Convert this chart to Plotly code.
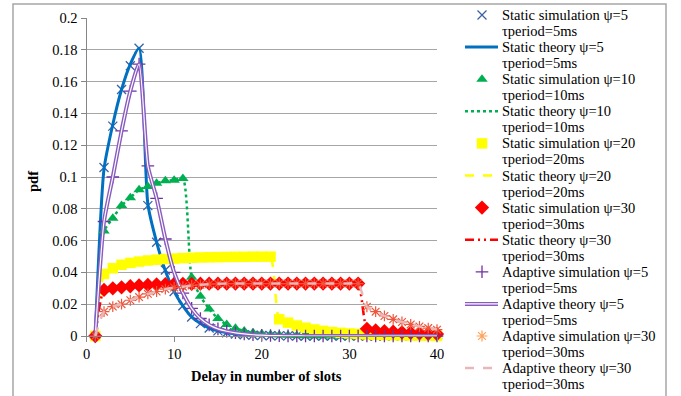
import plotly.graph_objects as go

# ---------------- data ----------------
slots = list(range(1, 41))

static_sim_5 = [0, 0.106, 0.132, 0.155, 0.170, 0.181, 0.082, 0.059, 0.0415, 0.028,
                0.019, 0.012, 0.0078, 0.005, 0.0032, 0.002, 0.0013, 0.0008, 0.0005, 0.0003,
                0.0002, 0.0001, 0.0001, 0, 0, 0, 0, 0, 0, 0,
                0, 0, 0, 0, 0, 0, 0, 0, 0, 0]
static_theory_5 = [0, 0.105, 0.133, 0.155, 0.171, 0.181, 0.083, 0.059, 0.041, 0.028,
                   0.019, 0.012, 0.0078, 0.005, 0.0032, 0.002, 0.0013, 0.0008, 0.0005, 0.0003,
                   0.0002, 0.0001, 0.0001, 0, 0, 0, 0, 0, 0, 0,
                   0, 0, 0, 0, 0, 0, 0, 0, 0, 0]
static_sim_10 = [0, 0.066, 0.074, 0.082, 0.087, 0.092, 0.094, 0.096, 0.0977, 0.098,
                 0.099, 0.037, 0.025, 0.017, 0.011, 0.0072, 0.0048, 0.0032, 0.0021, 0.0014,
                 0.0009, 0.0006, 0.0004, 0.0003, 0.0002, 0.0001, 0.0001, 0, 0, 0,
                 0, 0, 0, 0, 0, 0, 0, 0, 0, 0]
static_theory_10 = [0, 0.066, 0.074, 0.082, 0.087, 0.092, 0.094, 0.096, 0.0977, 0.098,
                    0.099, 0.037, 0.025, 0.017, 0.011, 0.0072, 0.0048, 0.0032, 0.0021, 0.0014,
                    0.0009, 0.0006, 0.0004, 0.0003, 0.0002, 0.0001, 0.0001, 0, 0, 0,
                    0, 0, 0, 0, 0, 0, 0, 0, 0, 0]
static_sim_20 = [0, 0.039, 0.0426, 0.0448, 0.046, 0.0468, 0.0475, 0.048, 0.0484, 0.0487,
                 0.049, 0.0492, 0.0494, 0.0495, 0.0496, 0.0497, 0.0498, 0.0498, 0.0499, 0.0499,
                 0.0499, 0.0105, 0.0084, 0.0066, 0.0052, 0.0041, 0.0032, 0.0025, 0.002, 0.0016,
                 0.0013, 0.001, 0.0008, 0.0006, 0.0005, 0.0004, 0.0003, 0.0002, 0.0002, 0.0001]
static_theory_20 = [0, 0.039, 0.0426, 0.0448, 0.046, 0.0468, 0.0475, 0.048, 0.0484, 0.0487,
                    0.049, 0.0492, 0.0494, 0.0495, 0.0496, 0.0497, 0.0498, 0.0498, 0.0499, 0.0499,
                    0.0499, 0.0105, 0.0084, 0.0066, 0.0052, 0.0041, 0.0032, 0.0025, 0.002, 0.0016,
                    0.0013, 0.001, 0.0008, 0.0006, 0.0005, 0.0004, 0.0003, 0.0002, 0.0002, 0.0001]
static_sim_30 = [0, 0.029, 0.030, 0.0306, 0.0313, 0.0318, 0.0321, 0.0324, 0.0326, 0.0327,
                 0.0328, 0.0328, 0.0329, 0.0329, 0.0329, 0.033, 0.033, 0.033, 0.033, 0.033,
                 0.033, 0.033, 0.033, 0.033, 0.033, 0.033, 0.033, 0.033, 0.033, 0.033,
                 0.033, 0.0045, 0.0035, 0.003, 0.0027, 0.0023, 0.002, 0.0017, 0.0014, 0.0012]
static_theory_30 = [0, 0.029, 0.030, 0.0306, 0.0313, 0.0318, 0.0321, 0.0324, 0.0326, 0.0327,
                    0.0328, 0.0328, 0.0329, 0.0329, 0.0329, 0.033, 0.033, 0.033, 0.033, 0.033,
                    0.033, 0.033, 0.033, 0.033, 0.033, 0.033, 0.033, 0.033, 0.033, 0.033,
                    0.033, 0.0045, 0.0035, 0.003, 0.0027, 0.0023, 0.002, 0.0017, 0.0014, 0.0012]
adaptive_sim_5 = [0, 0.072, 0.100, 0.129, 0.154, 0.171, 0.107, 0.0866, 0.061, 0.040,
                  0.027, 0.0174, 0.011, 0.007, 0.0045, 0.003, 0.002, 0.0013, 0.0008, 0.0005,
                  0.0003, 0.0002, 0.0001, 0.0001, 0, 0, 0, 0, 0, 0,
                  0, 0, 0, 0, 0, 0, 0, 0, 0, 0]
adaptive_theory_5 = [0, 0.072, 0.100, 0.129, 0.154, 0.171, 0.107, 0.0866, 0.061, 0.040,
                     0.027, 0.0174, 0.011, 0.007, 0.0045, 0.003, 0.002, 0.0013, 0.0008, 0.0005,
                     0.0003, 0.0002, 0.0001, 0.0001, 0, 0, 0, 0, 0, 0,
                     0, 0, 0, 0, 0, 0, 0, 0, 0, 0]
adaptive_sim_30 = [0, 0.0153, 0.0185, 0.020, 0.0225, 0.0245, 0.0265, 0.028, 0.0295, 0.0305,
                   0.031, 0.0318, 0.0322, 0.0326, 0.0328, 0.033, 0.033, 0.033, 0.033, 0.033,
                   0.033, 0.033, 0.033, 0.033, 0.033, 0.033, 0.033, 0.033, 0.033, 0.033,
                   0.033, 0.0184, 0.0153, 0.0126, 0.0105, 0.0088, 0.0073, 0.006, 0.005, 0.004]
adaptive_theory_30 = [0, 0.0153, 0.0185, 0.020, 0.0225, 0.0245, 0.0265, 0.028, 0.0295, 0.0305,
                      0.031, 0.0318, 0.0322, 0.0326, 0.0328, 0.033, 0.033, 0.033, 0.033, 0.033,
                      0.033, 0.033, 0.033, 0.033, 0.033, 0.033, 0.033, 0.033, 0.033, 0.033,
                      0.033, 0.0184, 0.0153, 0.0126, 0.0105, 0.0088, 0.0073, 0.006, 0.005, 0.004]

legend_names = ["Static simulation ψ=5", "Static theory ψ=5",
                "Static simulation ψ=10", "Static theory ψ=10",
                "Static simulation ψ=20", "Static theory ψ=20",
                "Static simulation ψ=30", "Static theory ψ=30",
                "Adaptive simulation ψ=5", "Adaptive theory ψ=5",
                "Adaptive simulation ψ=30", "Adaptive theory ψ=30"]
legend_periods = ["τperiod=5ms", "τperiod=5ms", "τperiod=10ms", "τperiod=10ms",
                  "τperiod=20ms", "τperiod=20ms", "τperiod=30ms", "τperiod=30ms",
                  "τperiod=5ms", "τperiod=5ms", "τperiod=30ms", "τperiod=30ms"]

y_tick_vals = [0, 0.02, 0.04, 0.06, 0.08, 0.1, 0.12, 0.14, 0.16, 0.18, 0.2]
y_tick_text = ["0", "0.02", "0.04", "0.06", "0.08", "0.1", "0.12", "0.14", "0.16", "0.18", "0.2"]
x_tick_vals = [0, 10, 20, 30, 40]

# ---------------- styling ----------------
W, H = 681, 396
FONT = "Liberation Serif, Times New Roman, serif"
FS = 14.5
PLOT_L, PLOT_R, PLOT_T, PLOT_B = 86.5, 437, 18, 336

C_X = "#3A62A6"
C_BLUE = "#0070C0"
C_GREEN = "#00B050"
C_YEL = "#FFFF00"
C_RED = "#FF0000"
C_PURP = "#7030A0"
C_PURP_L = "#8A5CC0"
C_PINK = "#C98886"
C_PINK_L = "#E6B9B8"

styles = [
    dict(mode="markers", marker=dict(symbol="x-thin", size=9, line=dict(color=C_X, width=1.3))),
    dict(mode="lines", line=dict(color=C_BLUE, width=3, shape="spline", smoothing=0.6)),
    dict(mode="markers", marker=dict(symbol="triangle-up", size=10, color=C_GREEN)),
    dict(mode="lines", line=dict(color=C_GREEN, width=2.5, dash="dot", shape="spline", smoothing=0.6)),
    dict(mode="markers", marker=dict(symbol="square", size=10.5, color=C_YEL)),
    dict(mode="lines", line=dict(color=C_YEL, width=2.5, dash="dash", shape="spline", smoothing=0.6)),
    dict(mode="markers", marker=dict(symbol="diamond", size=11, color=C_RED)),
    dict(mode="lines", line=dict(color=C_RED, width=2.5, dash="9px,4px,2px,4px,2px,4px",
                                 shape="spline", smoothing=0.6)),
    dict(mode="markers", marker=dict(symbol="cross-thin", size=9, line=dict(color=C_PURP, width=1.3))),
    dict(mode="lines", line=dict(color=C_PURP_L, width=4, shape="spline", smoothing=0.6)),
    dict(mode="markers", marker=dict(symbol="asterisk-open", size=9, line=dict(color=C_PINK, width=1.2))),
    dict(mode="lines", line=dict(color=C_PINK_L, width=2.5, dash="dash", shape="spline", smoothing=0.6)),
]
series = [static_sim_5, static_theory_5, static_sim_10, static_theory_10,
          static_sim_20, static_theory_20, static_sim_30, static_theory_30,
          adaptive_sim_5, adaptive_theory_5, adaptive_sim_30, adaptive_theory_30]

fig = go.Figure()
for name, ys, st in zip(legend_names, series, styles):
    fig.add_trace(go.Scatter(x=slots, y=ys, name=name, showlegend=False,
                             cliponaxis=False, **st))
    if name == "Adaptive theory ψ=5":
        # inner white stroke to give the double-line look
        fig.add_trace(go.Scatter(x=slots, y=ys, mode="lines", showlegend=False,
                                 hoverinfo="skip", cliponaxis=False,
                                 line=dict(color="white", width=1.2, shape="spline", smoothing=0.6)))

# ---------------- hand-built legend (pixel coordinates on a full-page axis pair) ----------------
LEG_Y0, LEG_STEP, LEG_SUB = 15, 32.1, 16.05
SYM_X, LINE_X0, LINE_X1, TEXT_X = 482, 465, 498, 500
for k, (name, st) in enumerate(zip(legend_names, styles)):
    yk = LEG_Y0 + LEG_STEP * k
    if st["mode"] == "markers":
        fig.add_trace(go.Scatter(x=[SYM_X], y=[yk], xaxis="x2", yaxis="y2", mode="markers",
                                 marker=st["marker"], showlegend=False, hoverinfo="skip"))
    else:
        ln = dict(st["line"])
        ln.pop("shape", None); ln.pop("smoothing", None)
        fig.add_trace(go.Scatter(x=[LINE_X0, LINE_X1], y=[yk, yk], xaxis="x2", yaxis="y2",
                                 mode="lines", line=ln, showlegend=False, hoverinfo="skip"))
        if name == "Adaptive theory ψ=5":
            fig.add_trace(go.Scatter(x=[LINE_X0, LINE_X1], y=[yk, yk], xaxis="x2", yaxis="y2",
                                     mode="lines", line=dict(color="white", width=1.2),
                                     showlegend=False, hoverinfo="skip"))
    fig.add_annotation(x=TEXT_X, y=yk, xref="x2", yref="y2", text=name, showarrow=False,
                       xanchor="left", yanchor="middle", font=dict(family=FONT, size=FS, color="black"))
    fig.add_annotation(x=TEXT_X, y=yk + LEG_SUB, xref="x2", yref="y2", text=legend_periods[k],
                       showarrow=False, xanchor="left", yanchor="middle",
                       font=dict(family=FONT, size=FS, color="black"))

# axis titles
fig.add_annotation(x=(PLOT_L + PLOT_R) / 2 + 5, y=376, xref="x2", yref="y2",
                   text="Delay in number of slots", showarrow=False,
                   font=dict(family=FONT, size=FS, color="black", weight="bold"))
fig.add_annotation(x=33, y=182, xref="x2", yref="y2", text="pdf", showarrow=False, textangle=-90,
                   font=dict(family=FONT, size=FS, color="black", weight="bold"))

# chart border
fig.add_shape(type="rect", xref="x2", yref="y2", x0=13, y0=4, x1=666, y1=402,
              line=dict(color="#A6A6A6", width=1.5), layer="below")

fig.update_layout(
    width=W, height=H, margin=dict(l=0, r=0, t=0, b=0, pad=0, autoexpand=False),
    paper_bgcolor="white", plot_bgcolor="rgba(0,0,0,0)",
    font=dict(family=FONT, size=FS, color="black"),
    showlegend=False,
    xaxis=dict(domain=[PLOT_L / W, PLOT_R / W], range=[0, 40], tickvals=x_tick_vals,
               showgrid=False, zeroline=False, showline=True, linecolor="#868686", linewidth=1,
               ticks="outside", ticklen=5, tickcolor="#868686", anchor="y", automargin=False,
               tickfont=dict(family=FONT, size=FS, color="black")),
    yaxis=dict(domain=[1 - PLOT_B / H, 1 - PLOT_T / H], range=[0, 0.2],
               tickvals=y_tick_vals, ticktext=y_tick_text, anchor="x", automargin=False,
               showgrid=True, gridcolor="#A6A6A6", gridwidth=1, zeroline=False,
               showline=True, linecolor="#868686", linewidth=1,
               ticks="outside", ticklen=5, tickcolor="#868686",
               tickfont=dict(family=FONT, size=FS, color="black")),
    xaxis2=dict(domain=[0, 1], range=[0, W], visible=False, anchor="y2", fixedrange=True,
                automargin=False),
    yaxis2=dict(domain=[0, 1], range=[H, 0], visible=False, anchor="x2", fixedrange=True,
                automargin=False),
)

fig.write_html("out.html")
